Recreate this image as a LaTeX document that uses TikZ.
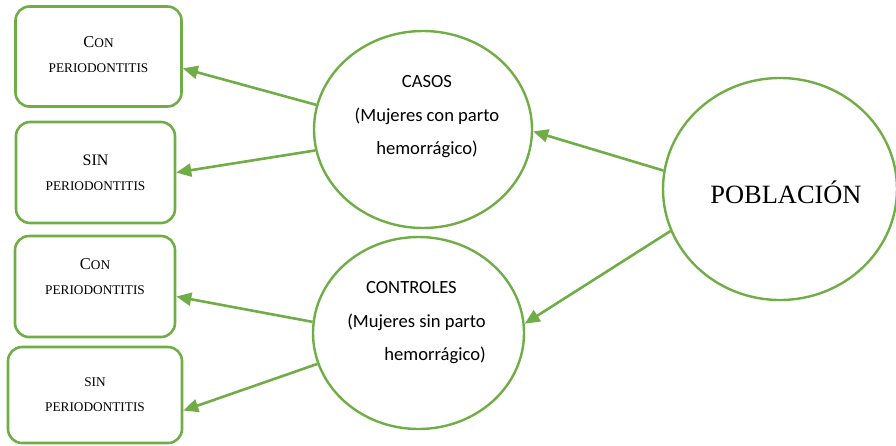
\documentclass[tikz,border=0pt]{standalone}
\usepackage{fontspec}
\setmainfont{Liberation Serif}
\newfontfamily\calibri{Carlito}
\usetikzlibrary{shapes.geometric,arrows.meta}
\definecolor{leaf}{RGB}{112,173,71}
\tikzset{
  grupo/.style={draw=leaf,line width=2.6pt,rounded corners=14pt,align=center,
    font=\fontsize{13.3}{25}\selectfont,inner sep=0pt},
  ovalo/.style={draw=leaf,line width=2.4pt,ellipse,inner sep=0pt},
  rotulo/.style={font=\calibri\fontsize{18.6}{33.5}\selectfont,inner sep=0pt},
  flecha/.style={draw=leaf,line width=2.6pt,-{Triangle[length=15pt,width=13pt]}},
}
\newcommand{\grandeC}{{\fontsize{16.5}{25}\selectfont C}}
\begin{document}
\begin{tikzpicture}[x=1pt,y=-1pt]
        \useasboundingbox (0,0) rectangle (896,445);
        %% grupos
        \node[grupo,minimum width=166pt,minimum height=100pt,text depth=4pt] (con1) at (98.5,56.5) {\grandeC ON\\PERIODONTITIS};
        \node[grupo,minimum width=159pt,minimum height=101pt] (sin1) at (95.5,172.5) {{\fontsize{16}{25}\selectfont SIN}\\PERIODONTITIS};
        \node[grupo,minimum width=160pt,minimum height=101pt,text depth=20pt] (con2) at (95,286.5) {\grandeC ON\\PERIODONTITIS};
        \node[grupo,minimum width=174pt,minimum height=96pt] (sin2) at (95,395) {SIN\\PERIODONTITIS};
        %% casos y controles
        \node[ovalo,minimum width=218pt,minimum height=197pt] (casos) at (423,129.5) {};
        \node[rotulo,align=center] (casostxt) at (427,117) {CASOS\\(Mujeres con parto\\hemorrágico)};
        \node[ovalo,minimum width=211pt,minimum height=192pt] (controles) at (418.5,333) {};
        \node[rotulo,align=right,anchor=east] (contxt) at (486,323) {CONTROLES\kern29pt\\(Mujeres sin parto\\hemorrágico)};
        %% poblacion
        \node[ovalo,minimum width=234pt,minimum height=222pt] (poblacion) at (780,189) {};
        \node[font=\fontsize{26.4}{30}\selectfont] (pobtxt) at (786,192) {POBLACIÓN};
        %% flechas
        \draw[flecha] (casos.167) -- (con1.-8);
        \draw[flecha] (casos.191) -- (sin1.east);
        \draw[flecha] (controles.174) -- (con2.-7);
        \draw[flecha] (controles.197) -- (sin2.-10);
        \draw[flecha] (poblacion.171) -- (casos.-1);
        \draw[flecha] (poblacion.201) -- (controles.5);
    \end{tikzpicture}
\end{document}
